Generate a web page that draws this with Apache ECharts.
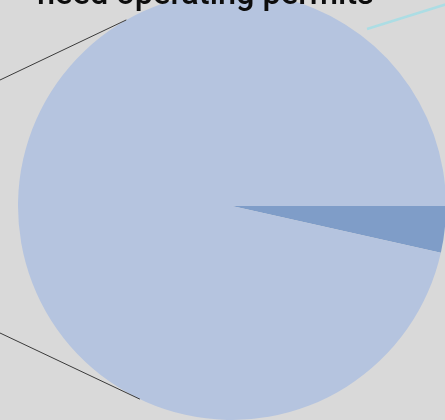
<!DOCTYPE html>
<html>
<head>
<meta charset="utf-8">
<style>
  html, body { margin: 0; padding: 0; background: #d9d9d9; }
  #chart { width: 445px; height: 420px; }
</style>
<script src="https://cdn.jsdelivr.net/npm/echarts@6/dist/echarts.min.js"></script>
</head>
<body>
<div id="chart"></div>
<script>
// Slice names and shares (percent)
const categories = ['Need operating permits', 'Other businesses'];
const shares = [3.5, 96.5];
const sliceColors = ['#7f9dc8', '#b5c4df'];
const titleText = 'need operating permits';

// Pie geometry
const pieCenter = [232, 206];
const pieRadius = 214;

// Point on the pie rim at a given angle (degrees, counter-clockwise from 3 o'clock)
function rimPoint(deg) {
  const a = deg * Math.PI / 180;
  return [pieCenter[0] + pieRadius * Math.cos(a), pieCenter[1] - pieRadius * Math.sin(a)];
}

// Connector lines running off to the left of the pie
const upperRim = rimPoint(119.6);
const lowerRim = rimPoint(244.5);
const connectors = [
  { from: [0, 80], to: upperRim },
  { from: [0, 333], to: lowerRim }
];

const chart = echarts.init(document.getElementById('chart'), null, { renderer: 'canvas' });

chart.setOption({
  backgroundColor: '#d9d9d9',
  animation: false,
  title: {
    text: titleText,
    left: 37,
    top: -21,
    padding: 0,
    textStyle: {
      fontFamily: 'Roboto',
      fontSize: 32.5,
      fontWeight: 500,
      color: '#0d0d0d'
    }
  },
  series: [{
    type: 'pie',
    center: pieCenter,
    radius: pieRadius,
    startAngle: 0,
    clockwise: true,
    label: { show: false },
    labelLine: { show: false },
    emphasis: { disabled: true },
    itemStyle: { borderWidth: 0 },
    data: categories.map((name, i) => ({
      name: name,
      value: shares[i],
      itemStyle: { color: sliceColors[i] }
    }))
  }],
  graphic: connectors.map(c => ({
    type: 'line',
    silent: true,
    z: 10,
    shape: { x1: c.from[0], y1: c.from[1], x2: c.to[0], y2: c.to[1] },
    style: { stroke: '#3a3a3a', lineWidth: 1 }
  })).concat([{
    type: 'line',
    silent: true,
    z: 10,
    shape: { x1: 367, y1: 29, x2: 447, y2: 4 },
    style: { stroke: '#acdde4', lineWidth: 2.5 }
  }])
});
</script>
</body>
</html>
